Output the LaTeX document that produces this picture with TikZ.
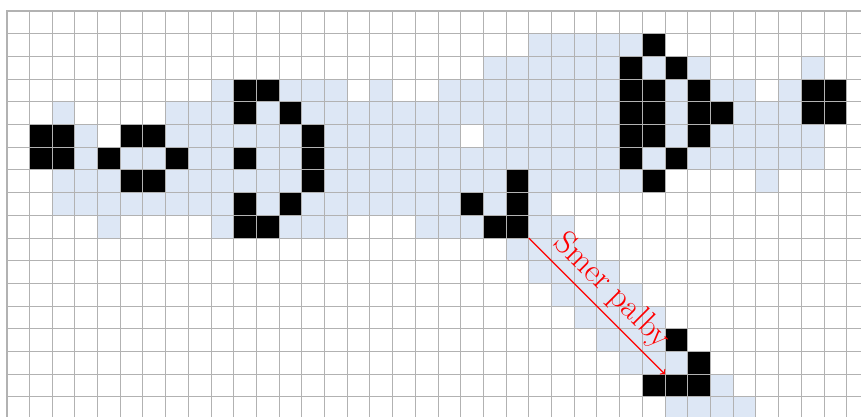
\documentclass[tikz,border=0pt]{standalone}
\usepackage{xcolor}
\usepackage{tikz}
\usetikzlibrary{arrows}

\definecolor{trail}{RGB}{221,231,245}

\begin{document}
\begin{tikzpicture}[
    scale=0.5,
    trailcell/.style={fill=trail},
    livecell/.style={fill=black},
    gridline/.style={draw=gray!60, line width=0.6pt},
    frameline/.style={draw=gray!60, line width=1.3pt},
    arrow/.style={->, >=to, red, line width=0.8pt}
]
    \useasboundingbox (-0.295,-17.84) rectangle (37.63,0.485);
    \clip (-0.295,-17.84) rectangle (37.63,0.485);

    % Trail (cells that were alive)
    \foreach \r/\cs in {1/{23,24,25,26,27}, 2/{21,22,23,24,25,26,28,30,35},
        3/{9,12,13,14,16,19,20,21,22,23,24,25,26,29,31,32,34},
        4/{2,7,8,9,11,13,14,15,16,17,18,19,20,21,22,23,24,25,26,29,32,33,34},
        5/{3,7,8,9,10,11,12,14,15,16,17,18,19,21,22,23,24,25,26,29,31,32,33,34,35},
        6/{3,5,6,8,9,11,12,14,15,16,17,18,19,20,21,22,23,24,25,26,28,30,31,32,33,34,35},
        7/{2,3,4,7,8,9,10,11,12,14,15,16,17,18,19,20,21,23,24,25,26,27,33},
        8/{2,3,4,5,6,7,8,9,11,13,14,15,16,17,18,19,21,23},
        9/{4,9,12,13,14,18,19,20,23,24},
        10/{22,23,24,25}, 11/{23,24,25,26}, 12/{24,25,26,27}, 13/{25,26,27,28},
        14/{26,27,28}, 15/{27,28,29}, 16/{31}, 17/{29,30,31,32}}
        \foreach \c in \cs
            \path[trailcell] (\c,-\r) rectangle ++(1,-1);

    % Live cells
    \foreach \r/\cs in {1/{28}, 2/{27,29},
        3/{10,11,27,28,30,35,36}, 4/{10,12,27,28,30,31,35,36},
        5/{1,2,5,6,13,27,28,30}, 6/{1,2,4,7,10,13,27,29},
        7/{5,6,13,22,28}, 8/{10,12,20,22}, 9/{10,11,21,22},
        14/{29}, 15/{30}, 16/{28,29,30}}
        \foreach \c in \cs
            \path[livecell] (\c,-\r) rectangle ++(1,-1);

    % Grid
    \draw[gridline] (0,-18) grid (38,0);
    \draw[frameline] (0,-18) rectangle (38,0);

    % Direction
    \coordinate (from) at (23,-10);
    \coordinate (to) at (29,-16);
    \draw[arrow] (from) -- (to) node[midway, above, sloped] {\huge Smer palby};
\end{tikzpicture}
\end{document}
